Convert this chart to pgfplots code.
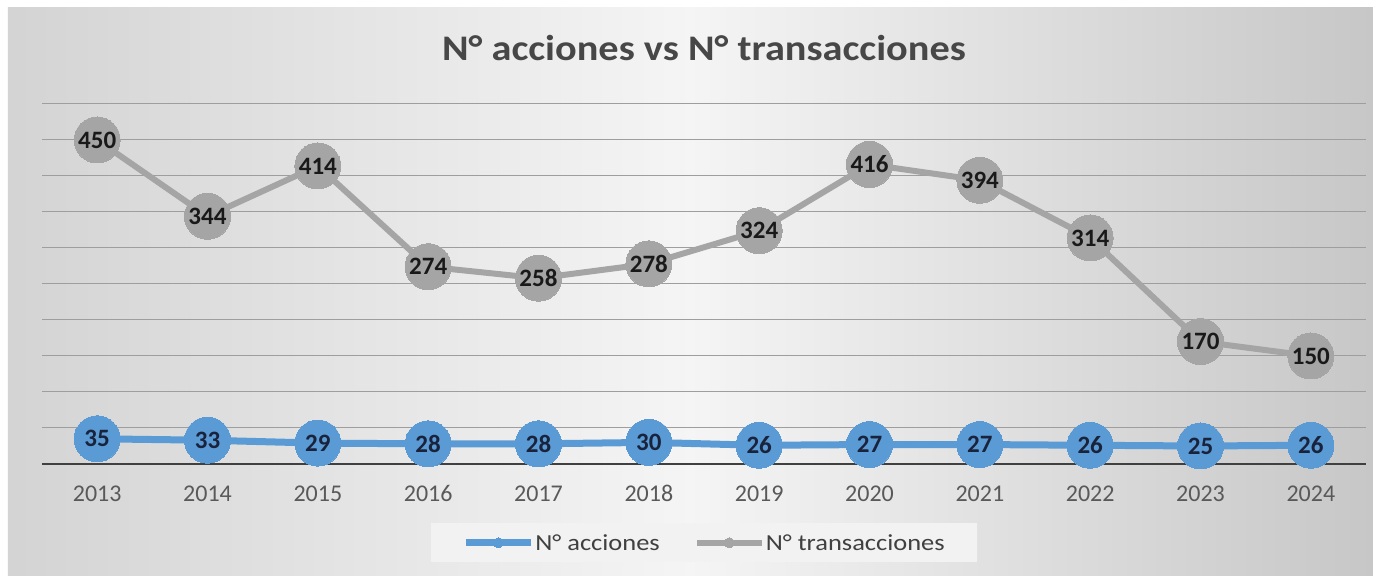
\documentclass[border=0pt]{standalone}
\usepackage{pgfplots}
\pgfplotsset{compat=1.18}
\usepackage{fontspec}
\setmainfont{Carlito}
\newfontfamily\titlefont{Carlito}[FakeStretch=1.12]
\newfontfamily\legfont{Carlito}[FakeStretch=1.15]
\usetikzlibrary{backgrounds}
\definecolor{cblue}{HTML}{5B9BD5}
\definecolor{cgray}{HTML}{A5A5A5}
\definecolor{tgray}{HTML}{595959}
\begin{document}
\begin{tikzpicture}
\begin{axis}[
  scale only axis,
  width=1324bp, height=360bp,
  xmin=-0.5, xmax=11.5,
  ymin=0, ymax=500,
  xtick={0,...,11},
  xticklabels={2013,2014,2015,2016,2017,2018,2019,2020,2021,2022,2023,2024},
  ytick={0,50,...,500},
  yticklabels={},
  major tick length=0pt,
  /pgf/number format/assume math mode=true,
  axis x line*=bottom,
  axis y line*=left,
  y axis line style={draw=none},
  x axis line style={line width=2.5bp, color=black!75},
  ymajorgrids,
  grid style={line width=1bp, color=black!38},
  tick label style={font=\fontsize{24bp}{26bp}\selectfont, color=tgray},
  xticklabel style={anchor=base, yshift=-38bp},
  clip=false,
  legend columns=2,
  legend style={at={(0.5,0)}, anchor=north, yshift=-59bp, xshift=0bp,
    fill=black!5, draw=none, font=\legfont\fontsize{23bp}{25bp}\selectfont\color{black!75},
    inner xsep=31bp, inner ysep=9bp,
    nodes={inner xsep=1bp},
    /tikz/every even column/.append style={column sep=33bp}},
  legend image code/.code={\draw[mark repeat=2,mark phase=2,#1,mark size=5bp] plot coordinates {(0bp,0bp) (32.5bp,0bp) (65bp,0bp)};},
  nodes near coords,
  every node near coord/.append style={anchor=center, font=\bfseries\fontsize{25bp}{27bp}\selectfont},
]
\addplot[color=cblue, line width=7bp, mark=*, mark size=23bp, mark options={fill=cblue, draw=cblue, line width=0pt},
  every node near coord/.append style={text={rgb,255:red,25;green,35;blue,60}}]
  coordinates {(0,35) (1,33) (2,29) (3,28) (4,28) (5,30) (6,26) (7,27) (8,27) (9,26) (10,25) (11,26)};
\addlegendentry{N° acciones}
\addplot[color=cgray, line width=6bp, mark=*, mark size=23bp, mark options={fill=cgray, draw=cgray, line width=0pt},
  every node near coord/.append style={text=black!90}]
  coordinates {(0,450) (1,344) (2,414) (3,274) (4,258) (5,278) (6,324) (7,416) (8,394) (9,314) (10,170) (11,150)};
\addlegendentry{N° transacciones}
\node[anchor=base, font=\titlefont\bfseries\fontsize{36bp}{38bp}\selectfont, text=black!72] at ([yshift=43bp]rel axis cs:0.5,1) {N° acciones vs N° transacciones};
\coordinate (SW) at (rel axis cs:0,0);
\coordinate (NE) at (rel axis cs:1,1);
\end{axis}
\begin{scope}[on background layer]
\fill[white] ([xshift=-42bp,yshift=-112bp]SW) rectangle ([xshift=7bp,yshift=104bp]NE);
\shade[left color=black!17, right color=black!22, middle color=black!4]
  ([xshift=-34bp,yshift=-112bp]SW) rectangle ([xshift=7bp,yshift=96bp]NE);
\end{scope}
\end{tikzpicture}
\end{document}
